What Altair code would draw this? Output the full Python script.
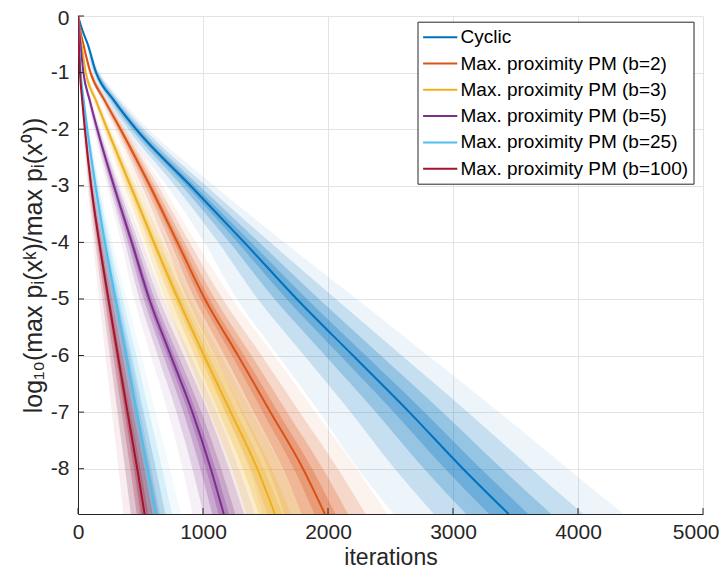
import altair as alt
import pandas as pd

SERIES = ["Cyclic", "Max. proximity PM (b=2)", "Max. proximity PM (b=3)",
          "Max. proximity PM (b=5)", "Max. proximity PM (b=25)", "Max. proximity PM (b=100)"]
COLORS = ["#0072BD", "#D95319", "#EDB120", "#7E2F8E", "#4DBEEE", "#A2142F"]

# log10 levels at which the curves were read
LEVELS = [0, -0.25, -0.5, -1, -1.5, -2, -3, -4, -5, -6, -7, -8, -8.8]

# median iteration count reaching each level
MED_CYCLIC = [0, 35, 78, 145, 290, 465, 900, 1330, 1750, 2200, 2650, 3080, 3445]
MED_B2 = [0, 18, 43, 100, 215, 340, 575, 795, 1015, 1280, 1540, 1800, 1975]
MED_B3 = [0, 12, 28, 62, 145, 234, 420, 607, 800, 1008, 1222, 1434, 1575]
MED_B5 = [0, 9, 20, 43, 95, 154, 287, 430, 570, 742, 915, 1062, 1166]
MED_B25 = [0, 4, 9, 22, 46, 74, 140, 215, 300, 388, 471, 556, 622]
MED_B100 = [0, 3, 7, 16, 34, 55, 105, 170, 243, 319, 396, 474, 533]

# half-width (iterations) of the widest shaded band at each level
W_CYCLIC = [0, 4, 12, 30, 65, 100, 190, 320, 480, 600, 720, 840, 920]
W_B2 = [0, 2, 6, 15, 30, 50, 100, 150, 220, 290, 360, 430, 500]
W_B3 = [0, 1, 4, 10, 22, 35, 70, 110, 160, 210, 260, 310, 350]
W_B5 = [0, 1, 3, 8, 17, 28, 55, 85, 120, 160, 195, 225, 250]
W_B25 = [0, 1, 2, 5, 11, 18, 35, 60, 90, 120, 150, 180, 200]
W_B100 = [0, 1, 2, 5, 9, 15, 30, 50, 75, 100, 125, 150, 170]

# nested bands: width relative to the widest band, and fill opacity
BAND_FRACTIONS = [1.0, 0.65, 0.37, 0.17]
BAND_OPACITY = [0.07, 0.17, 0.24, 0.28]

X_TICKS = [0, 1000, 2000, 3000, 4000, 5000]
Y_TICKS = [0, -1, -2, -3, -4, -5, -6, -7, -8]

MEDIANS = [MED_CYCLIC, MED_B2, MED_B3, MED_B5, MED_B25, MED_B100]
WIDTHS = [W_CYCLIC, W_B2, W_B3, W_B5, W_B25, W_B100]

band_rows, line_rows = [], []
for i, name in enumerate(SERIES):
    for j, lev in enumerate(LEVELS):
        line_rows.append({"series": name, "y": lev, "x": MEDIANS[i][j]})
        for k, f in enumerate(BAND_FRACTIONS):
            band_rows.append({
                "series": name, "grp": f"{i}-{k}", "y": lev,
                "lo": MEDIANS[i][j] - WIDTHS[i][j] * f,
                "hi": MEDIANS[i][j] + WIDTHS[i][j] * f,
                "op": BAND_OPACITY[k], "ord": i * 10 + k,
            })
bands_df = pd.DataFrame(band_rows)
lines_df = pd.DataFrame(line_rows)

FONT = "Liberation Sans"
AX = "#262626"
xscale = alt.Scale(domain=[0, 5000], nice=False, zero=False)
yscale = alt.Scale(domain=[-8.8, 0], nice=False, zero=False)

x_axis = alt.Axis(values=X_TICKS, title="iterations", grid=True, tickSize=0,
                  labelExpr="'' + datum.value", labelPadding=7, titlePadding=4,
                  labelFlush=False, titleFontSize=23,
                  labelAlign={"condition": {"test": "datum.value == 5000", "value": "right"},
                              "value": "center"},
                  labelOffset={"condition": {"test": "datum.value == 5000", "value": 16},
                               "value": 0})
y_axis = alt.Axis(values=Y_TICKS, title="log₁₀(max pᵢ(xᵏ)/max pᵢ(x⁰))", grid=True,
                  tickSize=0, labelExpr="'' + datum.value", labelPadding=9, titlePadding=4,
                  labelFlush=False, titleFontSize=25,
                  labelOffset={"condition": {"test": "datum.value == 0", "value": 2.5},
                               "value": 0})

bands = alt.Chart(bands_df).mark_area(orient="horizontal", clip=True,
                                      interpolate="monotone").encode(
    y=alt.Y("y:Q", scale=yscale, axis=y_axis),
    x=alt.X("lo:Q", scale=xscale, axis=x_axis),
    x2="hi:Q",
    color=alt.Color("series:N", scale=alt.Scale(domain=SERIES, range=COLORS), legend=None),
    opacity=alt.Opacity("op:Q", scale=None),
    detail="grp:N",
    order="ord:Q",
)

lines = alt.Chart(lines_df).mark_line(strokeWidth=2, clip=True,
                                      interpolate="monotone").encode(
    y=alt.Y("y:Q", scale=yscale, axis=y_axis),
    x=alt.X("x:Q", scale=xscale, axis=x_axis),
    color=alt.Color("series:N", scale=alt.Scale(domain=SERIES, range=COLORS),
                    sort=SERIES,
                    legend=alt.Legend(title=None, orient="none", legendX=339.5, legendY=5.7,
                                      symbolType="M-1.8,0H1.8", symbolSize=361,
                                      symbolStrokeWidth=2, labelFont=FONT, labelFontSize=19,
                                      labelColor="black", labelOffset=9.8, rowPadding=5.3,
                                      padding=5, strokeColor=AX, fillColor="white",
                                      cornerRadius=0, symbolOffset=7.2, labelLimit=400)),
)

xt = alt.Chart(pd.DataFrame({"t": X_TICKS})).mark_rule(color=AX, strokeWidth=1).encode(
    x=alt.X("t:Q", scale=xscale, axis=x_axis), y=alt.value(498), y2=alt.value(492))
yt = alt.Chart(pd.DataFrame({"t": Y_TICKS})).mark_rule(color=AX, strokeWidth=1).encode(
    y=alt.Y("t:Q", scale=yscale, axis=y_axis), x=alt.value(0), x2=alt.value(6))

chart = alt.layer(bands, lines, xt, yt).resolve_scale(color="independent").properties(
    width=625, height=498,
    autosize=alt.AutoSizeParams(type="none"),
    padding={"left": 70, "top": 8, "right": 16, "bottom": 55},
).configure_view(stroke=None).configure_axis(
    labelFont=FONT, titleFont=FONT, labelFontSize=21,
    labelColor=AX, titleColor=AX, titleFontWeight="normal",
    domainColor=AX, domainWidth=1, gridColor="#e3e3e3", gridWidth=1,
)

chart.save("out.html", embed_options={"renderer": "svg", "actions": False})
